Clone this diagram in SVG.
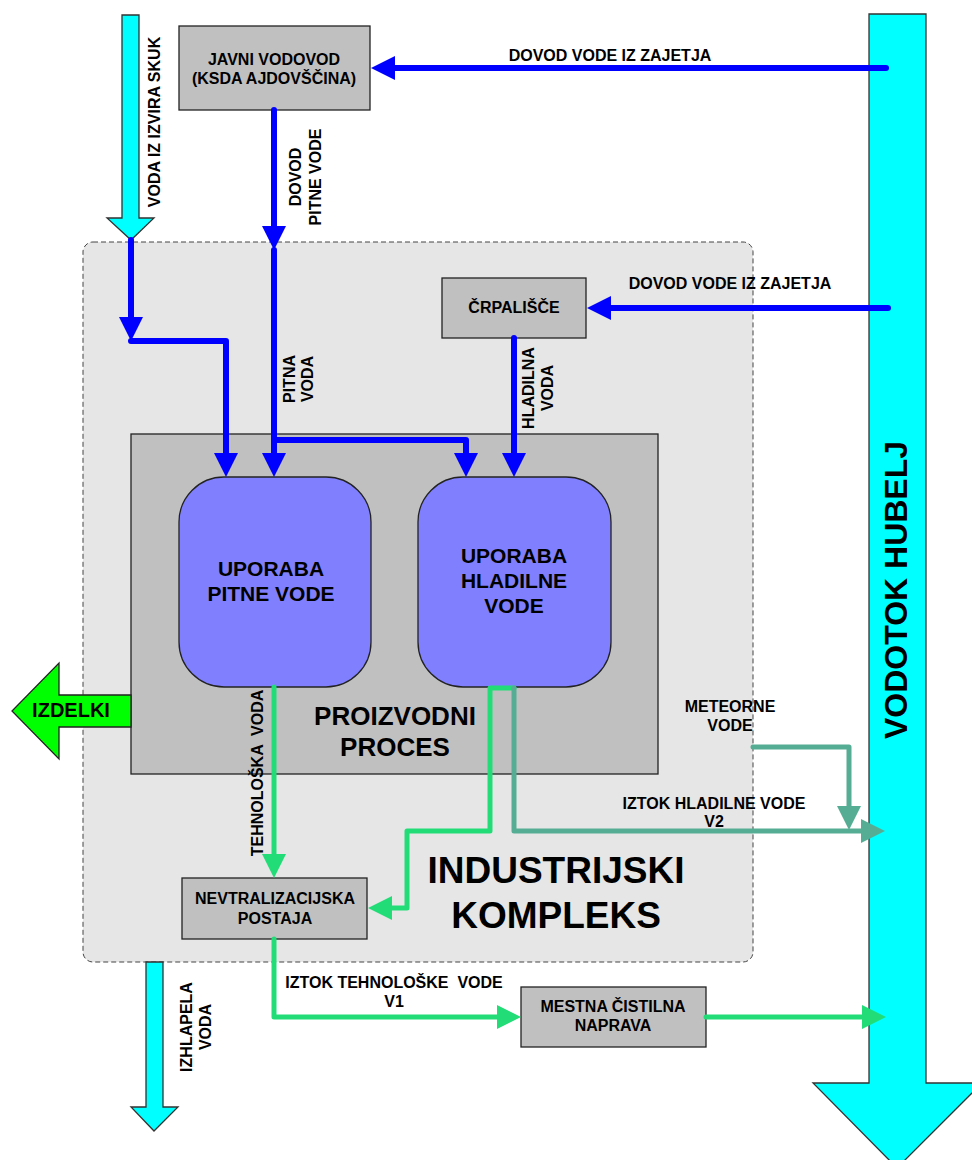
<svg xmlns="http://www.w3.org/2000/svg" width="972" height="1160" viewBox="0 0 972 1160">
<style>
text{font-family:"Liberation Sans",Arial,sans-serif;font-weight:bold;fill:#000;text-anchor:middle;white-space:pre}
.s{font-size:16px}
.u{font-size:21px}
.box{fill:#c0c0c0;stroke:#222;stroke-width:1.3}
.use{fill:#8080ff;stroke:#222;stroke-width:1.3}
.cy{fill:#00ffff;stroke:#333;stroke-width:1.3}
.b{fill:none;stroke:#0000ff;stroke-width:6;stroke-linecap:round;stroke-linejoin:round}
.g{fill:none;stroke:#22dd77;stroke-width:5;stroke-linecap:round;stroke-linejoin:round}
.t{fill:none;stroke:#55ae94;stroke-width:5;stroke-linecap:round;stroke-linejoin:round}
</style>
<defs>
<marker id="ab" markerUnits="userSpaceOnUse" markerWidth="24" markerHeight="24" refX="0" refY="12" orient="auto" overflow="visible"><path d="M0,0 L24,12 L0,24 z" fill="#0000ff"/></marker>
<marker id="ag" markerUnits="userSpaceOnUse" markerWidth="24" markerHeight="24" refX="0" refY="12" orient="auto" overflow="visible"><path d="M0,0 L24,12 L0,24 z" fill="#22dd77"/></marker>
<marker id="at" markerUnits="userSpaceOnUse" markerWidth="24" markerHeight="24" refX="0" refY="12" orient="auto" overflow="visible"><path d="M0,0 L24,12 L0,24 z" fill="#55ae94"/></marker>
</defs>
<rect width="972" height="1160" fill="#fff"/>

<g id="kompleks">
<rect x="83" y="242" width="670" height="720" rx="10" fill="#e6e6e6" stroke="#444" stroke-width="1" stroke-dasharray="5,3"/>
<text x="556" y="883" style="font-size:37px">INDUSTRIJSKI</text>
<text x="556" y="928" style="font-size:37px">KOMPLEKS</text>
</g>

<g id="vodotok-hubelj">
<polygon class="cy" points="869,14 926,14 926,1083 982,1083 897,1168 813,1083 869,1083"/>
<text transform="translate(907,590) rotate(-90)" style="font-size:32px">VODOTOK HUBELJ</text>
</g>

<g id="izvir-skuk">
<polygon class="cy" points="122,15 139,15 139,218 154,218 131,240 107,218 122,218"/>
<text class="s" transform="translate(160,122) rotate(-90)">VODA IZ IZVIRA SKUK</text>
</g>

<g id="izhlapela-voda">
<polygon class="cy" points="146,962 163,962 163,1107 178,1107 154,1131 131,1107 146,1107"/>
<text class="s" transform="translate(192,1027) rotate(-90)">IZHLAPELA<tspan x="0" y="19">VODA</tspan></text>
</g>

<g id="proizvodni-proces">
<rect x="131" y="434" width="527" height="340" fill="#c0c0c0" stroke="#222" stroke-width="1.3"/>
<text x="395" y="725" style="font-size:26px">PROIZVODNI</text>
<text x="395" y="756" style="font-size:26px">PROCES</text>
</g>

<g id="izdelki">
<polygon points="131,695 59,695 59,663 12,711 59,759 59,727 131,727" fill="#00ff00" stroke="#222" stroke-width="1.3"/>
<text x="71" y="717" style="font-size:20px">IZDELKI</text>
</g>

<g id="javni-vodovod">
<rect class="box" x="179" y="26" width="191" height="84"/>
<text class="s" x="274" y="65">JAVNI VODOVOD</text>
<text class="s" x="274" y="84">(KSDA AJDOVŠČINA)</text>
</g>

<g id="crpalisce">
<rect class="box" x="442" y="278" width="144" height="60"/>
<text class="s" x="514" y="313">ČRPALIŠČE</text>
</g>

<g id="uporaba-pitne">
<rect class="use" x="179" y="477" width="192" height="210" rx="45"/>
<text class="u" x="271" y="576">UPORABA</text>
<text class="u" x="271" y="601">PITNE VODE</text>
</g>

<g id="uporaba-hladilne">
<rect class="use" x="418" y="477" width="193" height="210" rx="45"/>
<text class="u" x="514" y="563">UPORABA</text>
<text class="u" x="514" y="588">HLADILNE</text>
<text class="u" x="514" y="613">VODE</text>
</g>

<g id="nevtralizacijska-postaja">
<rect class="box" x="182" y="878" width="185" height="61"/>
<text class="s" x="275" y="904">NEVTRALIZACIJSKA</text>
<text class="s" x="275" y="924">POSTAJA</text>
</g>

<g id="mestna-cistilna-naprava">
<rect class="box" x="521" y="987" width="185" height="60"/>
<text class="s" x="613" y="1012">MESTNA ČISTILNA</text>
<text class="s" x="613" y="1031">NAPRAVA</text>
</g>

<g id="connectors">
<path class="b" d="M886,68 L395,68" marker-end="url(#ab)"/>
<path class="b" d="M131,240 L131,317" marker-end="url(#ab)"/>
<path class="b" d="M131,341 L226,341 L226,453" marker-end="url(#ab)"/>
<path class="b" d="M274,110 L274,226" marker-end="url(#ab)"/>
<path class="b" d="M274,250 L274,453" marker-end="url(#ab)"/>
<path class="b" d="M274,440 L466,440 L466,453" marker-end="url(#ab)"/>
<path class="b" d="M888,308 L611,308" marker-end="url(#ab)"/>
<path class="b" d="M514,338 L514,453" marker-end="url(#ab)"/>
<path class="g" d="M274,687 L274,854" marker-end="url(#ag)"/>
<path class="g" d="M514,688 L490,688 L490,831 L407,831 L407,908 L392,908" marker-end="url(#ag)"/>
<path class="g" d="M274,939 L274,1017 L497,1017" marker-end="url(#ag)"/>
<path class="g" d="M706,1017 L862,1017" marker-end="url(#ag)"/>
<path class="t" d="M514,688 L514,831 L861,831" marker-end="url(#at)"/>
<path class="t" d="M753,747 L849,747 L849,806" marker-end="url(#at)"/>
</g>

<g id="labels">
<text class="s" x="610" y="61">DOVOD VODE IZ ZAJETJA</text>
<text class="s" x="730" y="289">DOVOD VODE IZ ZAJETJA</text>
<text class="s" transform="translate(301,177) rotate(-90)">DOVOD<tspan x="0" y="20">PITNE VODE</tspan></text>
<text class="s" transform="translate(295,379) rotate(-90)">PITNA<tspan x="0" y="18">VODA</tspan></text>
<text class="s" transform="translate(534,388) rotate(-90)">HLADILNA<tspan x="0" y="19">VODA</tspan></text>
<text class="s" transform="translate(263,773) rotate(-90)">TEHNOLOŠKA  VODA</text>
<text class="s" x="730" y="712">METEORNE</text>
<text class="s" x="730" y="731">VODE</text>
<text class="s" x="714" y="809">IZTOK HLADILNE VODE</text>
<text class="s" x="714" y="827">V2</text>
<text class="s" x="394" y="988">IZTOK TEHNOLOŠKE  VODE</text>
<text class="s" x="394" y="1007">V1</text>
</g>
</svg>
